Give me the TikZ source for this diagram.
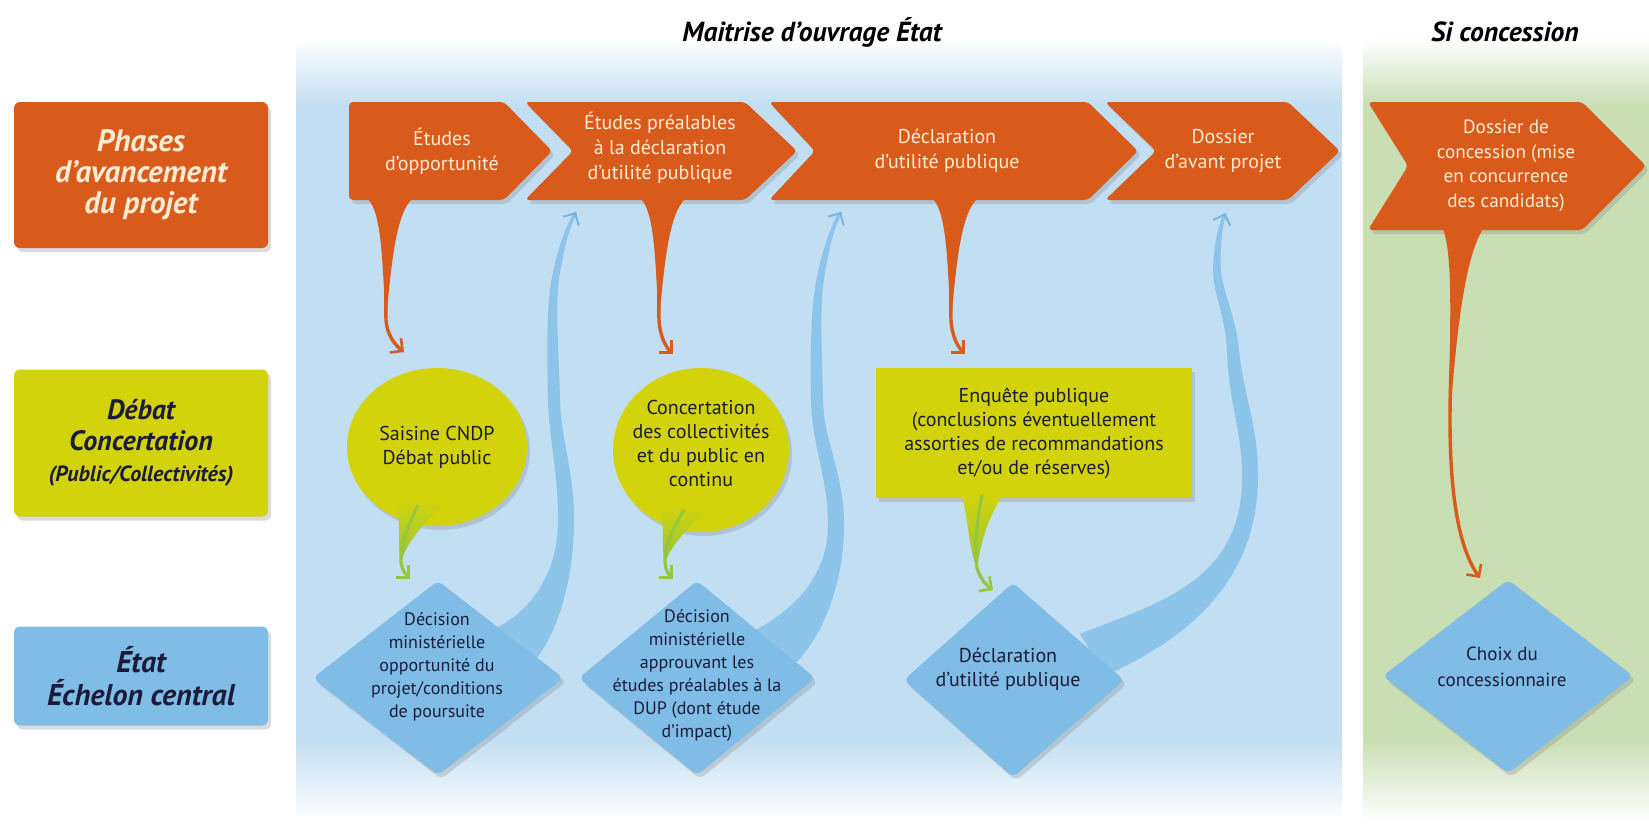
\documentclass[tikz,border=0pt]{standalone}
\usepackage{fontspec}
\setmainfont{PT Sans}
\usetikzlibrary{shapes.geometric,shadows,arrows.meta}
\definecolor{orC}{HTML}{D95B1C}
\definecolor{yelC}{HTML}{D3D30B}
\definecolor{grnC}{HTML}{96C63C}
\definecolor{blueB}{HTML}{7FBDE6}
\definecolor{blueT}{HTML}{8CC4EA}
\definecolor{blueA}{HTML}{7DB4DD}
\definecolor{panelB}{HTML}{C2DEF2}
\definecolor{panelG}{HTML}{C9DEB3}
\definecolor{cream}{HTML}{FCEBD3}
\definecolor{navy}{HTML}{1C1C3A}
\begin{document}
\begin{tikzpicture}[x=0.5pt,y=-0.5pt,
  shad/.style={drop shadow={shadow xshift=1.5pt,shadow yshift=-2pt,opacity=.28}},
  lblbox/.style={rounded corners=3pt,shad,inner sep=0pt,align=center,
     minimum width=127pt},
  title/.style={font=\fontsize{13.8}{16}\selectfont\bfseries\itshape,text=black},
  chevtxt/.style={font=\fontsize{10}{12.5}\selectfont,text=cream,align=center},
  bubtxt/.style={font=\fontsize{10}{12}\selectfont,text=navy,align=center},
  diatxt/.style={font=\fontsize{9}{11.5}\selectfont,text=navy,align=center},
  otail/.style={draw=orC,line width=1.7pt,-{Straight Barb[length=4.5pt,width=9pt,line width=1.3pt]}},
  gtail/.style={draw=grnC,line width=1.6pt,-{Straight Barb[length=4.5pt,width=9pt,line width=1.3pt]}},
  btail/.style={draw=blueT,line width=1.4pt,-{Straight Barb[length=4.5pt,width=9pt,line width=1pt,color=blueA]}},
]
\useasboundingbox (0,0) rectangle (1649,827);
\fill[white] (0,0) rectangle (1649,827);
% panels
\fill[panelB] (296,105) rectangle (1342,740);
\shade[top color=white,bottom color=panelB] (296,38) rectangle (1342,106);
\shade[top color=panelB,bottom color=white] (296,739) rectangle (1342,822);
\fill[panelG] (1363,105) rectangle (1649,740);
\shade[top color=white,bottom color=panelG] (1363,38) rectangle (1649,106);
\shade[top color=panelG,bottom color=white] (1363,739) rectangle (1649,822);
% titles
\node[title] (t1) at (812,32) {Maitrise d’ouvrage État};
\node[title] (t2) at (1505,32) {Si concession};
% row labels
\node[lblbox,fill=orC,minimum height=73pt,text=cream,
  font=\fontsize{15.5}{15.5}\selectfont\bfseries\itshape] (phases) at (141,175)
  {Phases\\d’avancement\\du projet};
\node[lblbox,fill=yelC,minimum height=73.5pt,text=navy,
  font=\fontsize{14}{15.5}\selectfont\bfseries\itshape] (debat) at (141,443)
  {Débat\\Concertation\\{\fontsize{11}{13}\selectfont(Public/Collectivités)}};
\node[lblbox,fill=blueB,minimum height=49.5pt,text=navy,
  font=\fontsize{15}{16.5}\selectfont\bfseries\itshape] (etat) at (141,676)
  {État\\Échelon central};
% chevrons
\fill[orC,shad,rounded corners=2pt] (349,102) -- (504,102) -- (552,151) -- (504,200) -- (349,200) -- cycle;
\fill[orC,shad,rounded corners=2pt] (525,102) -- (745,102) -- (797,151) -- (745,200) -- (525,200) -- (573,151) -- cycle;
\fill[orC,shad,rounded corners=2pt] (769,102) -- (1088,102) -- (1138,151) -- (1088,200) -- (769,200) -- (815,151) -- cycle;
\fill[orC,shad,rounded corners=2pt] (1105,102) -- (1288,102) -- (1340,151) -- (1288,200) -- (1105,200) -- (1156,151) -- cycle;
\fill[orC,shad,rounded corners=2pt] (1368,102) -- (1582,102) -- (1646,166) -- (1582,230) -- (1368,230) -- (1408,166) -- cycle;
\node[chevtxt] (c1) at (442,151) {Études\\d’opportunité};
\node[chevtxt] (c2) at (660,148) {Études préalables\\à la déclaration\\d’utilité publique};
\node[chevtxt] (c3) at (947,151) {Déclaration\\d’utilité publique};
\node[chevtxt] (c4) at (1223,151) {Dossier\\d’avant projet};
\node[chevtxt,font=\fontsize{9.6}{12.3}\selectfont] (c5) at (1506,166) {Dossier de\\concession (mise\\en concurrence\\des candidats)};
% orange tails
\coordinate (o1s) at (390,196); \coordinate (o1m) at (386,320); \coordinate (o1t) at (404,352);
\fill[orC] (368,199) .. controls (383,215) and (382,270) .. (o1m) .. controls (391,270) and (395,215) .. (412,199) -- cycle;
\draw[otail] (o1s) .. controls (388,240) and (385,290) .. (o1m) .. controls (387,335) and (395,345) .. (o1t);
\coordinate (o2s) at (663,196); \coordinate (o2m) at (659,320); \coordinate (o2t) at (673,354);
\fill[orC] (641,199) .. controls (656,215) and (655,270) .. (o2m) .. controls (664,270) and (668,215) .. (685,199) -- cycle;
\draw[otail] (o2s) .. controls (661,240) and (658,290) .. (o2m) .. controls (660,337) and (666,347) .. (o2t);
\coordinate (o3s) at (955,196); \coordinate (o3m) at (951,320); \coordinate (o3t) at (965,354);
\fill[orC] (933,199) .. controls (948,215) and (947,270) .. (o3m) .. controls (956,270) and (960,215) .. (977,199) -- cycle;
\draw[otail] (o3s) .. controls (953,240) and (950,290) .. (o3m) .. controls (952,337) and (958,347) .. (o3t);
\coordinate (o5s) at (1463,228); \coordinate (o5m) at (1450,420); \coordinate (o5t) at (1480,578);
\fill[orC] (1443,229) .. controls (1455,260) and (1448,350) .. (o5m) .. controls (1455,350) and (1463,260) .. (1483,229) -- cycle;
\draw[otail] (o5s) .. controls (1456,280) and (1450,350) .. (o5m) .. controls (1450,500) and (1460,550) .. (o5t);
% bubbles
\node[ellipse,fill=yelC,shad,inner sep=0pt,minimum width=90pt,minimum height=79pt] (s1) at (437,447) {};
\node[bubtxt] at (s1.center) {Saisine CNDP\\Débat public};
\node[ellipse,fill=yelC,shad,inner sep=0pt,minimum width=88pt,minimum height=82pt] (s2) at (701,450) {};
\node[bubtxt] at (701,443) {Concertation\\des collectivités\\et du public en\\continu};
\node[fill=yelC,shad,inner sep=0pt,minimum width=158pt,minimum height=65pt] (enq) at (1034,433) {};
\node[bubtxt] at (enq.center) {Enquête publique\\(conclusions éventuellement\\assorties de recommandations\\et/ou de réserves)};
% green tails
\coordinate (g1s) at (418,505); \coordinate (g1m) at (401,562); \coordinate (g1t) at (410,579);
\shade[top color=yelC,bottom color=grnC] (397,500) .. controls (401,525) and (397,545) .. (g1m) .. controls (406,545) and (420,525) .. (444,505) -- cycle;
\draw[gtail] (g1s) .. controls (408,525) and (400,545) .. (g1m) .. controls (402,570) and (406,575) .. (g1t);
\coordinate (g2s) at (684,510); \coordinate (g2m) at (665,563); \coordinate (g2t) at (673,579);
\shade[top color=yelC,bottom color=grnC] (660,505) .. controls (665,530) and (661,548) .. (g2m) .. controls (670,548) and (684,530) .. (709,510) -- cycle;
\draw[gtail] (g2s) .. controls (672,530) and (664,548) .. (g2m) .. controls (666,571) and (669,575) .. (g2t);
\coordinate (g3s) at (982,495); \coordinate (g3m) at (977,568); \coordinate (g3t) at (993,590);
\shade[top color=yelC,bottom color=grnC] (962,495) .. controls (969,525) and (969,550) .. (g3m) .. controls (980,548) and (986,520) .. (1003,495) -- cycle;
\draw[gtail] (g3s) .. controls (976,525) and (974,550) .. (g3m) .. controls (980,578) and (986,585) .. (g3t);
% diamond shadows
\fill[blueB,shad,rounded corners=3pt] (438,581) -- (563,678) -- (438,775) -- (313,678) -- cycle;
\fill[blueB,shad,rounded corners=3pt] (697,581) -- (815,678) -- (697,775) -- (579,678) -- cycle;
\fill[blueB,shad,rounded corners=3pt] (1013,583) -- (1124,680) -- (1013,777) -- (904,680) -- cycle;
\fill[blueB,shad,rounded corners=3pt] (1508,580) -- (1633,676) -- (1508,773) -- (1383,676) -- cycle;
% blue tails
\coordinate (b1s) at (512,646); \coordinate (b1m) at (566,520); \coordinate (b1p) at (554,400); \coordinate (b1q) at (557,270); \coordinate (b1t) at (576,212);
\fill[blueT] (496,628) .. controls (535,608) and (558,570) .. (558,520) .. controls (558,470) and (549,440) .. (548,400) .. controls (547,350) and (546,300) .. (553.5,270) .. controls (559,245) and (565,229) .. (574.5,211)
  -- (577.5,213) .. controls (569,227) and (565,245) .. (560.5,270) .. controls (554,300) and (559,350) .. (560,400) .. controls (561,440) and (574,470) .. (574,520) .. controls (574,585) and (555,640) .. (530,666) -- cycle;
\draw[btail] (b1s) .. controls (545,625) and (566,580) .. (b1m) .. controls (566,470) and (555,440) .. (b1p) .. controls (553,350) and (550,300) .. (b1q) .. controls (562,245) and (567,228) .. (b1t);
\coordinate (b2s) at (770,648); \coordinate (b2m) at (836,525); \coordinate (b2p) at (817,400); \coordinate (b2q) at (822,270); \coordinate (b2t) at (841,212);
\fill[blueT] (752,632) .. controls (795,610) and (828,575) .. (828,525) .. controls (828,477) and (812,447) .. (811,400) .. controls (810,350) and (811,300) .. (818.5,270) .. controls (824,245) and (830,229) .. (839.5,211)
  -- (842.5,213) .. controls (834,227) and (830,245) .. (825.5,270) .. controls (819,300) and (822,350) .. (823,400) .. controls (824,443) and (844,473) .. (844,525) .. controls (844,590) and (818,645) .. (790,668) -- cycle;
\draw[btail] (b2s) .. controls (805,625) and (836,585) .. (b2m) .. controls (836,475) and (818,445) .. (b2p) .. controls (816,350) and (815,300) .. (b2q) .. controls (827,245) and (832,228) .. (b2t);
\coordinate (b3s) at (1095,655); \coordinate (b3m) at (1250,480); \coordinate (b3p) at (1233,350); \coordinate (b3q) at (1217,260); \coordinate (b3t) at (1225,213);
\fill[blueT] (1080,634) .. controls (1150,605) and (1241,585) .. (1242,480) .. controls (1243,432) and (1228,402) .. (1227,350) .. controls (1225,310) and (1210,290) .. (1213.5,260) .. controls (1215,240) and (1218,228) .. (1223.5,213)
  -- (1226.5,213) .. controls (1222,228) and (1221,240) .. (1220.5,260) .. controls (1220,290) and (1235,310) .. (1239,350) .. controls (1244,398) and (1259,428) .. (1258,480) .. controls (1256,600) and (1160,650) .. (1105,676) -- cycle;
\draw[btail] (b3s) .. controls (1160,620) and (1248,590) .. (b3m) .. controls (1251,430) and (1236,400) .. (b3p) .. controls (1230,310) and (1215,290) .. (b3q) .. controls (1218,240) and (1220,228) .. (b3t);
% diamonds
\fill[blueB,rounded corners=3pt] (438,581) -- (563,678) -- (438,775) -- (313,678) -- cycle;
\fill[blueB,rounded corners=3pt] (697,581) -- (815,678) -- (697,775) -- (579,678) -- cycle;
\fill[blueB,rounded corners=3pt] (1013,583) -- (1124,680) -- (1013,777) -- (904,680) -- cycle;
\fill[blueB,rounded corners=3pt] (1508,580) -- (1633,676) -- (1508,773) -- (1383,676) -- cycle;
\node[diatxt] (d1) at (437,667) {Décision\\ministérielle\\opportunité du\\projet/conditions\\de poursuite};
\node[diatxt] (d2) at (697,675) {Décision\\ministérielle\\approuvant les\\études préalables à la\\DUP (dont étude\\d’impact)};
\node[bubtxt] (d3) at (1008,669) {Déclaration\\d’utilité publique};
\node[font=\fontsize{9.5}{13}\selectfont,text=navy,align=center] (d4) at (1502,667) {Choix du\\concessionnaire};
\end{tikzpicture}
\end{document}
